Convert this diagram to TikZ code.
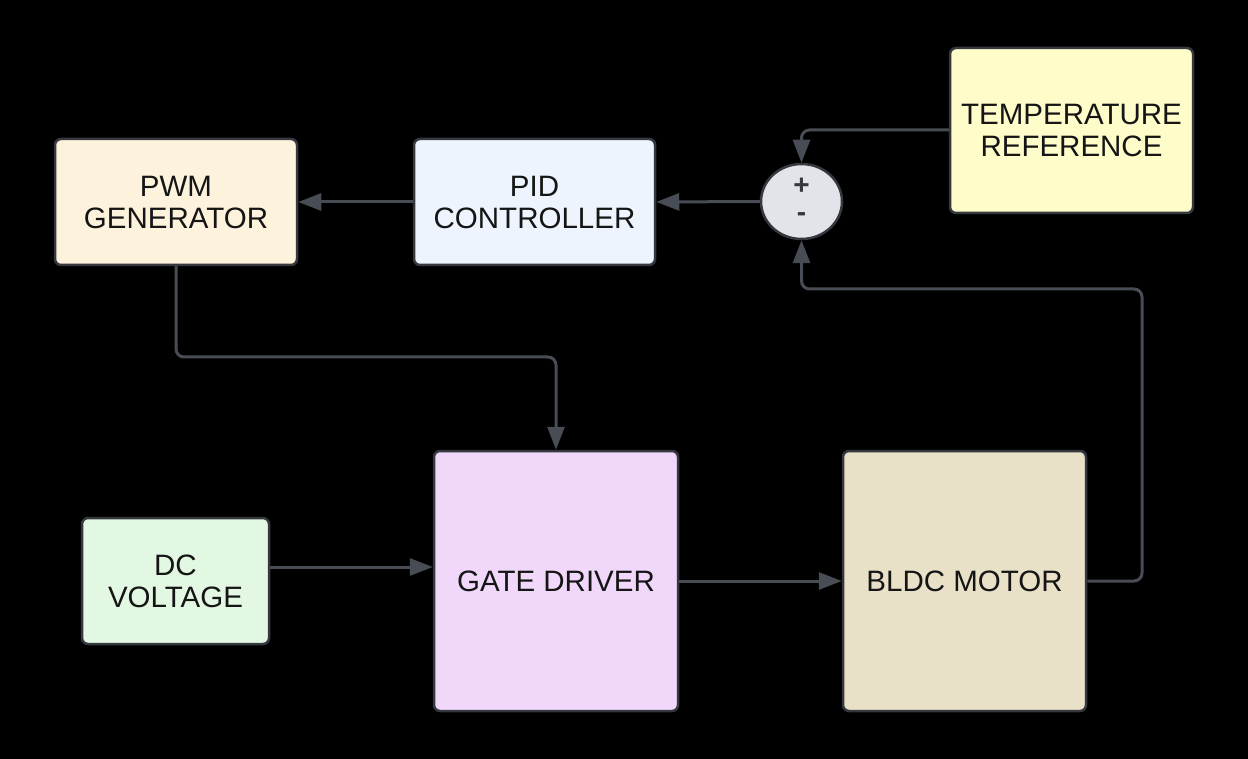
\documentclass[tikz,border=0pt]{standalone}
\usepackage{fontspec}
\setmainfont{Liberation Sans}
\usetikzlibrary{arrows.meta,shapes.geometric}
\definecolor{linec}{HTML}{484C54}
\definecolor{borderc}{HTML}{35383E}
\definecolor{pwmc}{HTML}{FDF2DC}
\definecolor{pidc}{HTML}{EDF4FE}
\definecolor{tempc}{HTML}{FEFCC8}
\definecolor{gatec}{HTML}{F1D8FB}
\definecolor{bldcc}{HTML}{E8E1C8}
\definecolor{dcc}{HTML}{E3F8E2}
\definecolor{sumc}{HTML}{E3E4E9}
\definecolor{txtc}{HTML}{151515}
\tikzset{
  blockbox/.style={draw=borderc, line width=2.5pt, rounded corners=6pt, align=center,
    text=txtc, font=\fontsize{29.5}{32}\selectfont, inner sep=0pt},
  conn/.style={draw=linec, line width=3pt, rounded corners=8pt,
    -{Triangle[length=23pt,width=17pt]}},
}
\begin{document}
\begin{tikzpicture}[x=1pt,y=-1pt]
\fill[black] (0,0) rectangle (1248,759);
\useasboundingbox (0,0) rectangle (1248,759);
\node[blockbox, fill=pwmc, minimum width=242pt, minimum height=126pt] (pwm) at (176,202) {PWM\\GENERATOR};
\node[blockbox, fill=pidc, minimum width=241pt, minimum height=126pt] (pid) at (534.5,202) {PID\\CONTROLLER};
\node[blockbox, fill=tempc, minimum width=243pt, minimum height=165pt] (temp) at (1071.5,130.5) {TEMPERATURE\\REFERENCE};
\node[blockbox, fill=gatec, minimum width=244pt, minimum height=260pt] (gate) at (556,581) {GATE DRIVER};
\node[blockbox, fill=bldcc, minimum width=243pt, minimum height=260pt] (bldc) at (964.5,581) {BLDC MOTOR};
\node[blockbox, fill=dcc, minimum width=187pt, minimum height=126pt] (dc) at (175.5,581) {DC\\VOLTAGE};
\node[ellipse, draw=borderc, line width=2.5pt, fill=sumc, minimum width=81pt, minimum height=75pt, inner sep=0pt] (sum) at (801.5,201.5) {};
\node[text=borderc, font=\fontsize{28}{28}\selectfont\bfseries] (plus) at (801.5,186) {+};
\node[text=borderc, font=\fontsize{28}{28}\selectfont\bfseries] (minus) at (801.5,217) {-};
\coordinate (fb) at (1142,289);
\coordinate (pg) at (556,357);
\draw[conn] (pid.west) -- (pwm.east);
\draw[conn] (sum.west) -- (pid.east);
\draw[conn] ([yshift=0.5pt]temp.west) -| (sum.north);
\draw[conn] (bldc.east) -| (fb) -| (sum.south);
\draw[conn] (pwm.south) |- (pg) -- (gate.north);
\draw[conn] ([yshift=14pt]dc.east) -- ([yshift=14pt]dc.east -| gate.west);
\draw[conn] (gate.east) -- (bldc.west);
\end{tikzpicture}
\end{document}
